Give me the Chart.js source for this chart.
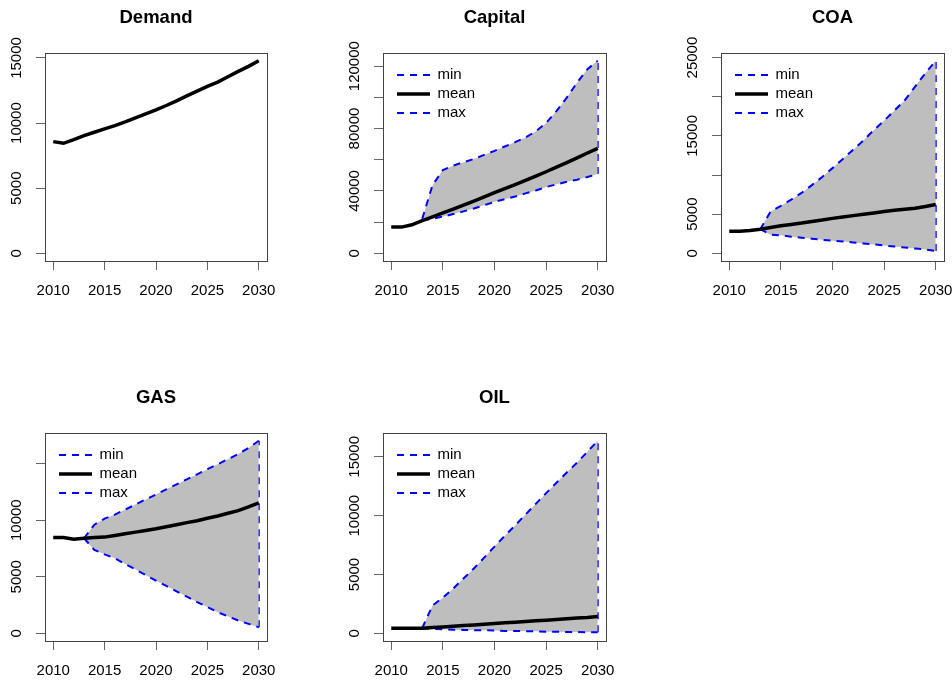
<!DOCTYPE html>
<html>
<head>
<meta charset="utf-8">
<script src="https://cdn.jsdelivr.net/npm/chart.js@4"></script>
<style>
  html, body { margin: 0; padding: 0; background: #fff; overflow: hidden; }
  body { width: 952px; height: 681px; position: relative; }
  canvas { position: absolute; }
</style>
</head>
<body>
<canvas id="demand" width="317" height="340" style="left:0px;top:0px"></canvas>
<canvas id="capital" width="317" height="340" style="left:338px;top:0px"></canvas>
<canvas id="coa" width="317" height="340" style="left:676px;top:0px"></canvas>
<canvas id="gas" width="317" height="340" style="left:0px;top:380px"></canvas>
<canvas id="oil" width="317" height="340" style="left:338px;top:380px"></canvas>
<script>
const FONT = '"Liberation Sans", Arial, Helvetica, sans-serif';

const years = [2010, 2011, 2012, 2013, 2014, 2015, 2016, 2017, 2018, 2019, 2020,
  2021, 2022, 2023, 2024, 2025, 2026, 2027, 2028, 2029, 2030];
const bandYears = [2013, 2014, 2015, 2016, 2017, 2018, 2019, 2020, 2021,
  2022, 2023, 2024, 2025, 2026, 2027, 2028, 2029, 2030];
const xTicks = [2010, 2015, 2020, 2025, 2030];

const demand = [8577, 8449, 8731, 9039, 9296, 9553, 9810, 10092, 10400, 10709, 11017,
  11351, 11710, 12095, 12455, 12814, 13148, 13559, 13970, 14355, 14792];

const capitalMean = [16800, 16800, 18300, 20900, 23400, 25900, 28300, 30900, 33500, 36200, 38900,
  41500, 44100, 46800, 49500, 52300, 55200, 58200, 61200, 64300, 67300];
const capitalMin = [20900, 22200, 23500, 25200, 26900, 28700, 30800, 33000, 34700,
  36400, 38400, 40300, 42500, 44200, 45900, 47200, 48900, 50900];
const capitalMax = [22200, 43700, 53400, 56200, 58400, 60500, 63100, 65700, 68500,
  71300, 74300, 78200, 83600, 91200, 99800, 109500, 118100, 123500];

const coaMean = [2820, 2820, 2900, 3080, 3290, 3510, 3680, 3860, 4070, 4250, 4460,
  4640, 4810, 4980, 5160, 5330, 5500, 5630, 5760, 5980, 6240];
const coaMin = [3080, 2380, 2300, 2120, 1990, 1860, 1730, 1600, 1520,
  1390, 1260, 1130, 1000, 870, 740, 610, 480, 300];
const coaMax = [3080, 5330, 6070, 6850, 7710, 8710, 9750, 10880, 12050,
  13220, 14430, 15730, 16940, 18240, 19540, 21300, 23000, 24600];

const gasMean = [8470, 8470, 8320, 8400, 8470, 8500, 8650, 8790, 8940, 9090, 9240,
  9420, 9600, 9780, 9950, 10160, 10370, 10610, 10840, 11170, 11530];
const gasMin = [8400, 7370, 6980, 6630, 6120, 5650, 5140, 4660, 4190,
  3710, 3240, 2760, 2320, 1870, 1490, 1130, 830, 540];
const gasMax = [8400, 9600, 10130, 10490, 10930, 11380, 11830, 12270, 12720,
  13160, 13610, 14050, 14500, 14940, 15390, 15840, 16370, 17020];

const oilMean = [430, 430, 430, 430, 490, 540, 600, 660, 710, 770, 830,
  890, 940, 1000, 1060, 1110, 1170, 1230, 1290, 1340, 1430];
const oilMin = [430, 370, 340, 310, 290, 260, 260, 230, 200,
  200, 170, 170, 140, 140, 110, 110, 90, 90];
const oilMax = [450, 2370, 3030, 3800, 4660, 5510, 6430, 7370, 8290,
  9170, 10090, 11000, 11910, 12800, 13660, 14510, 15430, 16370];

const demandTicks = [0, 5000, 10000, 15000];
const demandLabels = [0, 5000, 10000, 15000];
const capitalTicks = [0, 20000, 40000, 60000, 80000, 100000, 120000];
const capitalLabels = [0, 40000, 80000, 120000];
const coaTicks = [0, 5000, 10000, 15000, 20000, 25000];
const coaLabels = [0, 5000, 15000, 25000];
const gasTicks = [0, 5000, 10000, 15000];
const gasLabels = [0, 5000, 10000];
const oilTicks = [0, 5000, 10000, 15000];
const oilLabels = [0, 5000, 10000, 15000];

// helpers
const pts = (xs, ys) => xs.map((x, i) => ({ x: x, y: ys[i] }));
const padRange = (lo, hi) => {
  const d = (hi - lo) * 0.04;
  return [lo - d, hi + d];
};
const measure = document.createElement("canvas").getContext("2d");
measure.font = "15px " + FONT;

// R style box round the plot region
const boxPlugin = {
  id: "rbox",
  afterDatasetsDraw(chart) {
    const a = chart.chartArea;
    const ctx = chart.ctx;
    ctx.save();
    ctx.strokeStyle = "#444";
    ctx.lineWidth = 1;
    ctx.strokeRect(Math.round(a.left) + 0.5, Math.round(a.top) + 0.5,
      Math.round(a.right - a.left), Math.round(a.bottom - a.top));
    ctx.restore();
  }
};

// put the legend inside the plot box, top left
const legendShift = {
  id: "legendShift",
  afterLayout(chart) {
    const l = chart.legend;
    if (!l || !l.options.display) return;
    const a = chart.chartArea;
    const w = l.width, h = l.height;
    l.left = a.left + 10; l.right = l.left + w;
    l.top = a.top + 10.5; l.bottom = l.top + h;
  }
};

// legend items with the dash of their dataset
const dashedLabels = (chart) =>
  Chart.defaults.plugins.legend.labels.generateLabels(chart).map((item) => {
    const ds = chart.data.datasets[item.datasetIndex];
    item.lineDash = ds.borderDash || [];
    item.lineWidth = ds.borderWidth;
    item.lineCap = "butt";
    return item;
  });

const makeChart = (id, title, plotW, datasets, yTicks, yLabels, yMax, withLegend) => {
  const xr = padRange(years[0], years[years.length - 1]);
  const yr = padRange(0, yMax);
  const widest = Math.max(...yLabels.map((v) => measure.measureText(String(v)).width));
  return new Chart(document.getElementById(id), {
    type: "line",
    data: { datasets: datasets },
    options: {
      responsive: false,
      animation: false,
      events: [],
      layout: { padding: { left: 0, top: 0, right: 317 - 45 - plotW, bottom: 39 } },
      plugins: {
        title: {
          display: true,
          text: title,
          fullSize: false,
          color: "#000",
          font: { family: FONT, size: 18.5, weight: "bold" },
          padding: { top: 7, bottom: 23.8 }
        },
        legend: {
          display: withLegend,
          position: "chartArea",
          align: "start",
          labels: {
            usePointStyle: true,
            pointStyle: "line",
            pointStyleWidth: 33,
            padding: 4,
            color: "#000",
            font: { family: FONT, size: 15 },
            generateLabels: dashedLabels,
            filter: (item) => item.datasetIndex < 3,
            sort: (a, b) => a.datasetIndex - b.datasetIndex
          }
        },
        tooltip: { enabled: false }
      },
      scales: {
        x: {
          type: "linear",
          min: xr[0],
          max: xr[1],
          afterBuildTicks: (s) => { s.ticks = xTicks.map((v) => ({ value: v })); },
          afterFit: (s) => { s.height = 40; },
          border: { display: false },
          grid: { drawOnChartArea: false, drawTicks: true, tickLength: 9, color: "#666" },
          ticks: {
            color: "#000",
            font: { family: FONT, size: 15 },
            padding: 12,
            autoSkip: false,
            maxRotation: 0,
            callback: (v) => String(v)
          }
        },
        y: {
          type: "linear",
          min: yr[0],
          max: yr[1],
          afterBuildTicks: (s) => { s.ticks = yTicks.map((v) => ({ value: v })); },
          afterFit: (s) => { s.width = 45; },
          border: { display: false },
          grid: { drawOnChartArea: false, drawTicks: true, tickLength: 9, color: "#666" },
          ticks: {
            color: "#000",
            font: { family: FONT, size: 15 },
            minRotation: 90,
            maxRotation: 90,
            crossAlign: "center",
            padding: 19 - widest / 2,
            autoSkip: false,
            callback: (v) => (yLabels.includes(v) ? String(v) : "")
          }
        }
      }
    },
    plugins: [boxPlugin, legendShift]
  });
};

const bandSets = (mean, lo, hi) => [
  {
    label: "min",
    data: pts(bandYears, lo),
    borderColor: "#0000ff",
    borderWidth: 2,
    borderDash: [7, 6],
    borderCapStyle: "butt",
    backgroundColor: "#bebebe",
    fill: false,
    pointRadius: 0,
    tension: 0,
    order: 1
  },
  {
    label: "mean",
    data: pts(years, mean),
    borderColor: "#000",
    borderWidth: 3.5,
    borderCapStyle: "butt",
    backgroundColor: "#000",
    fill: false,
    pointRadius: 0,
    tension: 0,
    order: 0
  },
  {
    label: "max",
    data: pts(bandYears, hi),
    borderColor: "#0000ff",
    borderWidth: 2,
    borderDash: [7, 6],
    borderCapStyle: "butt",
    backgroundColor: "#bebebe",
    fill: 0,
    pointRadius: 0,
    tension: 0,
    order: 1
  },
  {
    label: "edge",
    data: pts([2030, 2030], [lo[lo.length - 1], hi[hi.length - 1]]),
    borderColor: "#0000ff",
    borderWidth: 2,
    borderDash: [7, 6],
    borderCapStyle: "butt",
    fill: false,
    pointRadius: 0,
    tension: 0,
    order: 1
  }
];

makeChart("demand", "Demand", 222, [{
  label: "Demand",
  data: pts(years, demand),
  borderColor: "#000",
  borderWidth: 3.5,
  fill: false,
  pointRadius: 0,
  tension: 0
}], demandTicks, demandLabels, Math.max(...demand), false);

makeChart("capital", "Capital", 223, bandSets(capitalMean, capitalMin, capitalMax),
  capitalTicks, capitalLabels, Math.max(...capitalMax), true);
makeChart("coa", "COA", 223, bandSets(coaMean, coaMin, coaMax),
  coaTicks, coaLabels, Math.max(...coaMax), true);
makeChart("gas", "GAS", 222, bandSets(gasMean, gasMin, gasMax),
  gasTicks, gasLabels, Math.max(...gasMax), true);
makeChart("oil", "OIL", 223, bandSets(oilMean, oilMin, oilMax),
  oilTicks, oilLabels, Math.max(...oilMax), true);
</script>
</body>
</html>
